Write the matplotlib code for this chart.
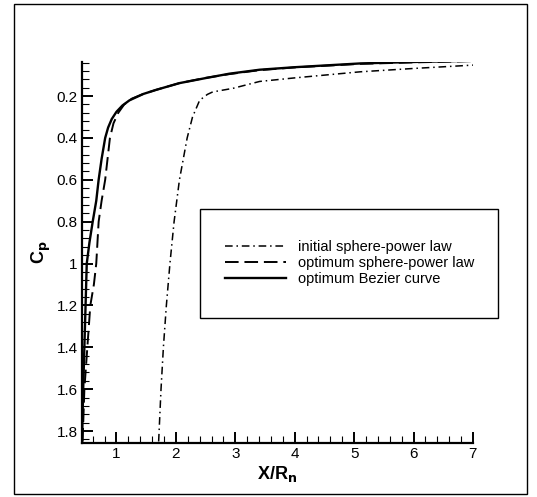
import matplotlib
matplotlib.use("Agg")
import matplotlib.pyplot as plt
from matplotlib.patches import Rectangle
from matplotlib.ticker import MultipleLocator
from matplotlib.lines import Line2D

plt.rcParams['font.family'] = ['Liberation Sans', 'DejaVu Sans']

# initial sphere-power law
init_x = [1.71, 1.75, 1.79, 1.84, 1.90, 1.97, 2.06, 2.19, 2.28, 2.40, 2.53, 2.62, 2.96, 3.41, 4.0, 5.1, 6.0, 7.0]
init_cp = [1.85, 1.6, 1.4, 1.2, 1.0, 0.8, 0.6, 0.4, 0.3, 0.22, 0.192, 0.18, 0.163, 0.13, 0.113, 0.084, 0.068, 0.052]

# optimum sphere-power law
opt_x = [0.43, 0.46, 0.51, 0.56, 0.62, 0.66, 0.68, 0.70, 0.75, 0.81, 0.85, 0.89, 0.95, 1.03, 1.13, 1.26, 1.45, 1.67,
         2.06, 2.5, 2.9, 3.41, 4.0, 5.1, 6.0, 7.0]
opt_cp = [1.85, 1.6, 1.4, 1.2, 1.1, 1.0, 0.9, 0.8, 0.7, 0.6, 0.5, 0.4, 0.33, 0.28, 0.24, 0.212, 0.19, 0.17,
          0.138, 0.113, 0.095, 0.076, 0.063, 0.046, 0.039, 0.033]

# optimum Bezier curve
bez_x = [0.42, 0.44, 0.46, 0.48, 0.50, 0.545, 0.60, 0.66, 0.70, 0.75, 0.81, 0.86, 0.92, 1.0, 1.1, 1.22, 1.45, 1.67,
         2.06, 2.5, 2.9, 3.41, 4.0, 5.1, 6.0, 7.0]
bez_cp = [1.85, 1.6, 1.4, 1.2, 1.0, 0.9, 0.8, 0.7, 0.6, 0.5, 0.4, 0.35, 0.31, 0.275, 0.245, 0.22, 0.19, 0.17,
          0.138, 0.114, 0.093, 0.074, 0.062, 0.044, 0.037, 0.031]

labels = ["initial sphere-power law", "optimum sphere-power law", "optimum Bezier curve"]

fig = plt.figure(figsize=(5.37, 4.97), dpi=100)
ax = fig.add_axes([0.1527, 0.1087, 0.728, 0.7666])

dashdot = (0, (5, 2.5, 1, 2.5))
dashed = (0, (7, 3))
ax.plot(init_x, init_cp, color="black", lw=1.1, linestyle=dashdot)
ax.plot(opt_x, opt_cp, color="black", lw=1.4, linestyle=dashed)
ax.plot(bez_x, bez_cp, color="black", lw=1.7, linestyle="-")

ax.set_xlim(0.42, 7.0)
ax.set_ylim(1.857, 0.037)
ax.xaxis.set_major_locator(MultipleLocator(1))
ax.xaxis.set_minor_locator(MultipleLocator(0.2))
ax.yaxis.set_minor_locator(MultipleLocator(0.04))
ax.set_yticks([0.2, 0.4, 0.6, 0.8, 1.0, 1.2, 1.4, 1.6, 1.8])
ax.set_yticklabels(["0.2", "0.4", "0.6", "0.8", "1", "1.2", "1.4", "1.6", "1.8"])
ax.tick_params(which="major", direction="in", length=8, width=1.4, labelsize=11, pad=3)
ax.tick_params(which="minor", direction="in", length=5, width=0.8)
for s in ["top", "right"]:
    ax.spines[s].set_visible(False)
for s in ["left", "bottom"]:
    ax.spines[s].set_linewidth(1.6)

ax.set_xlabel(r"X/R$_\mathbf{n}$", fontsize=13, fontweight="bold", labelpad=2)
ax.set_ylabel(r"C$_\mathbf{p}$", fontsize=13, fontweight="bold", labelpad=3)

# legend box
ax.add_patch(Rectangle((0.302, 0.328), 0.762, 0.286, transform=ax.transAxes,
                       facecolor="white", edgecolor="black", lw=1.0, zorder=3, clip_on=False))
handles = [Line2D([], [], color="black", lw=1.1, linestyle=dashdot),
           Line2D([], [], color="black", lw=1.4, linestyle=dashed),
           Line2D([], [], color="black", lw=1.7)]
leg = ax.legend(handles, labels, loc="center", bbox_to_anchor=(0.685, 0.472), bbox_transform=ax.transAxes,
                frameon=False, fontsize=10.5, handlelength=4.2, handletextpad=0.8, labelspacing=0.15)
leg.set_zorder(4)

# outer frame around the whole picture
fig.add_artist(Rectangle((0.026, 0.006), 0.955, 0.986, transform=fig.transFigure,
                         fill=False, edgecolor="black", lw=1.0))

fig.savefig("out.png", dpi=100)
